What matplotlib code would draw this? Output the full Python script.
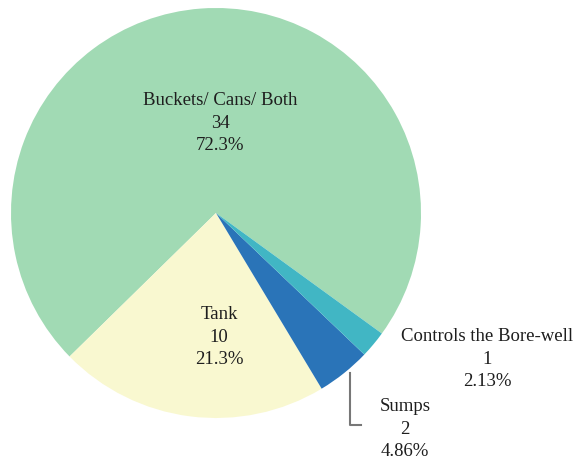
import numpy as np
import matplotlib.pyplot as plt

plt.rcParams['font.family'] = ['Liberation Serif', 'DejaVu Serif']

categories = ["Buckets/ Cans/ Both", "Tank", "Sumps", "Controls the Bore-well"]
counts = [34, 10, 2, 1]
pct_labels = ["72.3%", "21.3%", "4.86%", "2.13%"]
colors = ["#a1dab4", "#f9f8d0", "#2a74b8", "#41b6c4"]

W, H = 576, 463
fig = plt.figure(figsize=(W / 100, H / 100), dpi=100)
ax = fig.add_axes([0, 0, 1, 1])

cx, cy, r = 216, H - 213, 205
wedges, _ = ax.pie(counts, colors=colors, startangle=-36, counterclock=True,
                   center=(cx, cy), radius=r,
                   wedgeprops=dict(linewidth=0))
ax.set_xlim(0, W)
ax.set_ylim(0, H)
ax.set_aspect('equal')
ax.axis('off')

txt = dict(ha='center', va='center', fontsize=13.5, color='#1e1e1e', linespacing=1.45)

def label(i):
    return f"{categories[i]}\n{counts[i]}\n{pct_labels[i]}"

ax.text(220, H - 123, label(0), **txt)
ax.text(219, H - 337, label(1), **txt)
ax.text(487, H - 359, label(3), **txt)
ax.text(405, H - 429, label(2), **txt)

# leader from the edge of the Sumps wedge down to its label
w = wedges[2]
mid = np.deg2rad((w.theta1 + w.theta2) / 2)
x0 = cx + r * np.cos(mid) + 6
y0 = cy + r * np.sin(mid)
ax.plot([x0, x0, x0 + 11], [y0, H - 425, H - 425], color='#777777', lw=1.5)

fig.savefig("out.png", dpi=100)
